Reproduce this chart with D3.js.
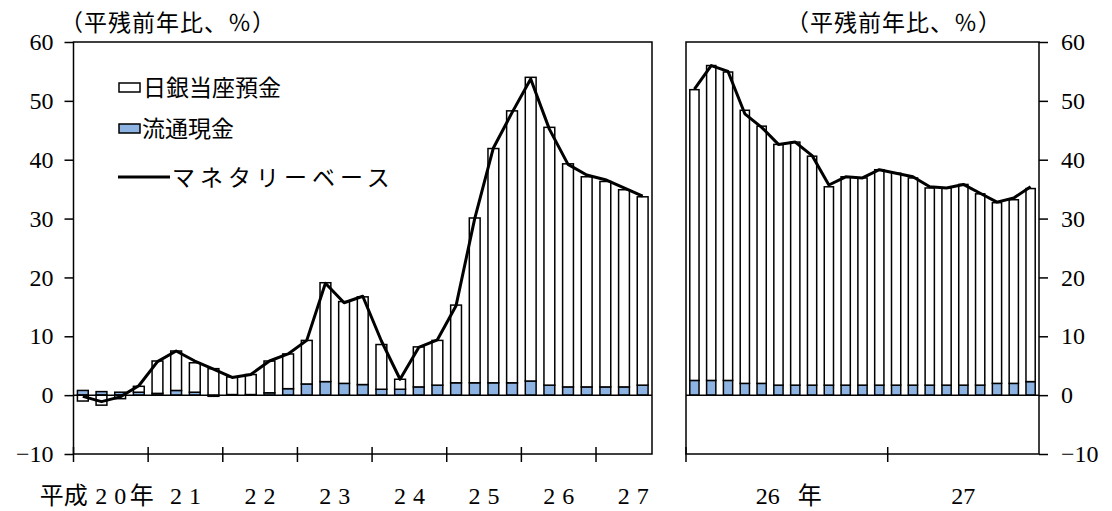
<!DOCTYPE html>
<html>
<head>
<meta charset="utf-8">
<script src="https://cdn.jsdelivr.net/npm/d3@7/dist/d3.min.js"></script>
<style>
  html, body { margin: 0; padding: 0; background: #ffffff; }
  svg { display: block; }
</style>
</head>
<body>
<svg id="chart" width="1112" height="511"></svg>
<script>
// ---------------- DATA ----------------
// Left panel: quarterly, 平成20年Q1 - 平成27年Q3
const leftPeriods = ["H20Q1","H20Q2","H20Q3","H20Q4","H21Q1","H21Q2","H21Q3","H21Q4",
  "H22Q1","H22Q2","H22Q3","H22Q4","H23Q1","H23Q2","H23Q3","H23Q4",
  "H24Q1","H24Q2","H24Q3","H24Q4","H25Q1","H25Q2","H25Q3","H25Q4",
  "H26Q1","H26Q2","H26Q3","H26Q4","H27Q1","H27Q2","H27Q3"];
// 流通現金 contribution
const leftCurrency = [0.8,0.6,0.5,0.5,0.3,0.8,0.5,-0.2,0.1,0.1,0.4,1.1,1.9,2.3,2.0,1.8,
  1.0,1.0,1.4,1.7,2.1,2.1,2.1,2.1,2.4,1.7,1.4,1.4,1.4,1.4,1.7];
// 日銀当座預金 contribution
const leftCurrentAccount = [-1.0,-1.7,-0.6,1.0,5.5,6.7,5.0,4.5,3.0,3.4,5.4,5.9,7.4,16.8,13.9,14.9,
  7.6,1.7,6.8,7.6,13.2,28.0,39.8,46.2,51.6,43.8,37.9,35.7,34.9,33.5,32.0];
// マネタリーベース
const leftMonetaryBase = [-0.2,-1.1,-0.3,1.6,5.7,7.5,5.8,4.4,3.0,3.5,5.8,7.0,9.3,19.0,15.7,16.8,
  9.2,2.7,8.1,9.4,15.2,30.0,42.0,48.0,53.7,45.2,39.2,37.4,36.6,35.2,33.8];
const leftYearLabels = ["20","21","22","23","24","25","26","27"];

// Right panel: monthly, 平成26年1月 - 平成27年9月
const rightMonths = ["26/1","26/2","26/3","26/4","26/5","26/6","26/7","26/8","26/9","26/10","26/11","26/12",
  "27/1","27/2","27/3","27/4","27/5","27/6","27/7","27/8","27/9"];
const rightCurrency = [2.5,2.5,2.5,2.0,2.0,1.7,1.7,1.7,1.7,1.7,1.7,1.7,1.7,1.7,1.7,1.7,1.7,1.7,2.0,2.0,2.3];
const rightCurrentAccount = [49.4,53.5,52.4,46.4,43.7,40.9,41.3,38.9,33.7,35.4,35.2,36.6,36.0,35.2,
  33.5,33.5,34.1,32.5,30.7,31.2,32.8];
const rightMonetaryBase = [52.0,56.0,55.0,47.8,45.5,42.6,43.0,40.7,35.7,37.1,36.9,38.3,37.7,37.1,
  35.4,35.2,35.8,34.3,32.8,33.5,35.4];
const rightYearLabels = ["26","27"];

const yTicks = [-10,0,10,20,30,40,50,60];
const unitLabel = "（平残前年比、％）";
const legendLabels = ["日銀当座預金","流通現金","マネタリーベース"];

// ---------------- STYLE ----------------
const BLUE = "#8db3e2";
const NUM_FONT = "'Liberation Serif', 'DejaVu Serif', serif";
const JP_FONT = "'Noto Sans CJK JP', 'Noto Sans', sans-serif";
const NUM_SIZE = 24;

const svg = d3.select("#chart");
svg.append("rect").attr("width",1112).attr("height",511).attr("fill","#fff");

const y = d3.scaleLinear().domain([-10,60]).range([454,42]);

function drawPanel(opts) {
  const {periods, cur, ca, mb, x0, x1, pad} = opts;
  const rows = periods.map((p,i)=>({p, cur:cur[i], ca:ca[i], mb:mb[i]}));
  const xb = d3.scaleBand().domain(periods).range([x0,x1]).paddingInner(pad).paddingOuter(pad/2);
  const stack = d3.stack().keys(["cur","ca"]).offset(d3.stackOffsetDiverging)(rows);
  const g = svg.append("g");
  const fills = {cur: BLUE, ca: "#ffffff"};
  stack.forEach(layer => {
    g.append("g").selectAll("rect").data(layer).join("rect")
      .attr("x", d => xb(d.data.p))
      .attr("width", xb.bandwidth())
      .attr("y", d => y(Math.max(d[0],d[1])))
      .attr("height", d => Math.abs(y(d[0]) - y(d[1])))
      .attr("fill", fills[layer.key])
      .attr("stroke", "#000")
      .attr("stroke-width", 1.5);
  });
  // zero line
  g.append("line").attr("x1",x0).attr("x2",x1).attr("y1",y(0)).attr("y2",y(0))
    .attr("stroke","#000").attr("stroke-width",1.5);
  // monetary base line
  const line = d3.line().x(d => xb(d.p) + xb.bandwidth()/2).y(d => y(d.mb));
  g.append("path").datum(rows).attr("d", line).attr("fill","none")
    .attr("stroke","#000").attr("stroke-width",3).attr("stroke-linejoin","round");
  // frame
  g.append("rect").attr("x",x0).attr("y",y(60)).attr("width",x1-x0).attr("height",y(-10)-y(60))
    .attr("fill","none").attr("stroke","#000").attr("stroke-width",1.5);
  return xb;
}

// Left panel
const LX0 = 73.5, LX1 = 652;
drawPanel({periods:leftPeriods, cur:leftCurrency, ca:leftCurrentAccount, mb:leftMonetaryBase, x0:LX0, x1:LX1, pad:0.42});
// Right panel
const RX0 = 686, RX1 = 1039;
drawPanel({periods:rightMonths, cur:rightCurrency, ca:rightCurrentAccount, mb:rightMonetaryBase, x0:RX0, x1:RX1, pad:0.45});

// Y axes
const fmt = d => d < 0 ? "−" + Math.abs(d) : d;
const axL = svg.append("g").attr("transform",`translate(${LX0},0)`)
  .call(d3.axisLeft(y).tickValues(yTicks).tickSize(9).tickPadding(11).tickFormat(fmt));
const axR = svg.append("g").attr("transform",`translate(${RX1},0)`)
  .call(d3.axisRight(y).tickValues(yTicks).tickSize(9).tickPadding(13).tickFormat(fmt));
[axL, axR].forEach(ax => {
  ax.select(".domain").remove();
  ax.selectAll("line").attr("stroke","#000").attr("stroke-width",1.5);
  ax.selectAll("text").attr("font-family",NUM_FONT).attr("font-size",NUM_SIZE).attr("fill","#000");
});

// X axis ticks & labels
const qLin = d3.scaleLinear().domain([0, leftPeriods.length]).range([LX0, LX1]);
const mLin = d3.scaleLinear().domain([0, rightMonths.length]).range([RX0, RX1]);
const xt = svg.append("g");
function xtick(x) {
  xt.append("line").attr("x1",x).attr("x2",x).attr("y1",447).attr("y2",462)
    .attr("stroke","#000").attr("stroke-width",1.5);
}
leftYearLabels.forEach((lab,k)=> xtick(qLin(k*4)));
xtick(mLin(0)); xtick(mLin(12));

const LBL_Y = 504;
function spacedDigits(str, cx) {
  const pitch = 19;
  const n = str.length;
  str.split("").forEach((ch,i)=>{
    svg.append("text").attr("x", cx + (i - (n-1)/2)*pitch).attr("y", LBL_Y)
      .attr("text-anchor","middle").attr("font-family",NUM_FONT).attr("font-size",NUM_SIZE).text(ch);
  });
}
leftYearLabels.forEach((lab,k)=>{
  const cx = qLin(k*4 + 2);
  spacedDigits(lab, cx);
  if (k === 0) {
    svg.append("text").attr("x", cx - 23).attr("y", LBL_Y).attr("text-anchor","end")
      .attr("font-family",JP_FONT).attr("font-size",24).text("平成");
    svg.append("text").attr("x", cx + 19).attr("y", LBL_Y).attr("text-anchor","start")
      .attr("font-family",JP_FONT).attr("font-size",24).text("年");
  }
});
// right panel labels
svg.append("text").attr("x", mLin(6) - 19).attr("y", LBL_Y).attr("text-anchor","middle")
  .attr("font-family",NUM_FONT).attr("font-size",NUM_SIZE).text(rightYearLabels[0]);
svg.append("text").attr("x", mLin(6) + 23).attr("y", LBL_Y).attr("text-anchor","middle")
  .attr("font-family",JP_FONT).attr("font-size",24).text("年");
svg.append("text").attr("x", mLin(16.5)).attr("y", LBL_Y).attr("text-anchor","middle")
  .attr("font-family",NUM_FONT).attr("font-size",NUM_SIZE).text(rightYearLabels[1]);

// unit labels
[[60, 31],[786, 31]].forEach(([x,yy])=>{
  svg.append("text").attr("x",x).attr("y",yy).attr("font-family",JP_FONT).attr("font-size",23)
    .attr("letter-spacing",1).text(unitLabel);
});

// legend
const lg = svg.append("g");
lg.append("rect").attr("x",119).attr("y",83).attr("width",21).attr("height",9)
  .attr("fill","#fff").attr("stroke","#000").attr("stroke-width",1.5);
lg.append("text").attr("x",143).attr("y",96).attr("font-family",JP_FONT).attr("font-size",23).text(legendLabels[0]);
lg.append("rect").attr("x",119).attr("y",124).attr("width",21).attr("height",9)
  .attr("fill",BLUE).attr("stroke","#000").attr("stroke-width",1.5);
lg.append("text").attr("x",142).attr("y",137).attr("font-family",JP_FONT).attr("font-size",23).text(legendLabels[1]);
lg.append("line").attr("x1",118).attr("x2",170).attr("y1",177).attr("y2",177)
  .attr("stroke","#000").attr("stroke-width",3);
lg.append("text").attr("x",172).attr("y",186).attr("font-family",JP_FONT).attr("font-size",23)
  .attr("letter-spacing",5).text(legendLabels[2]);
</script>
</body>
</html>
